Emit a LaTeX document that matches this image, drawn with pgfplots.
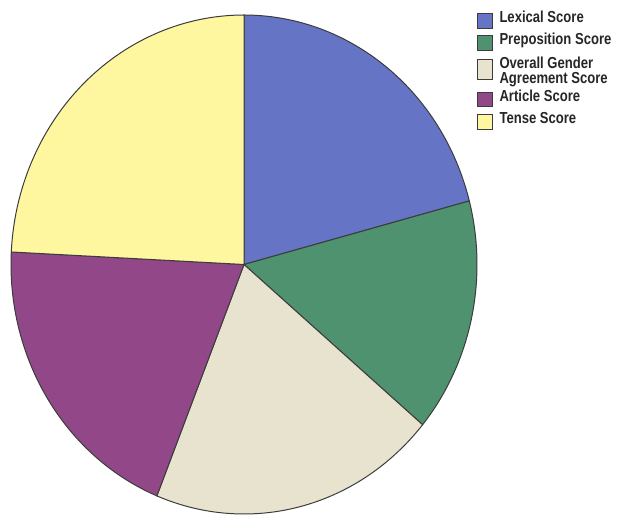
\documentclass[border=0pt]{standalone}
\usepackage{pgfplots}
\pgfplotsset{compat=1.18}
\usepackage{pgfplotstable}
\usepackage{fontspec}
\setmainfont{Liberation Sans}
\newfontfamily\legfont{Liberation Sans}[FakeStretch=0.82]

\definecolor{lexblue}{RGB}{102,116,198}
\definecolor{prepgreen}{RGB}{78,146,112}
\definecolor{genderbeige}{RGB}{232,227,206}
\definecolor{artpurple}{RGB}{146,72,136}
\definecolor{tenseyellow}{RGB}{255,246,160}
\definecolor{edge}{RGB}{60,60,60}

\pgfplotsset{
  genderimg/.style={legend image code/.code={\draw[##1,draw=edge,line width=0.8bp] (0bp,-11bp) rectangle (15bp,9bp);}},
}

% share of the pie (percent), read off the picture
\pgfplotstableread{
name value
Lexical 20.9
Preposition 15.2
Gender 20.0
Article 19.7
Tense 24.2
}\piedata

\newcommand{\cx}{244}
\newcommand{\cy}{253.5}
\newcommand{\rx}{233}
\newcommand{\ry}{249.5}
\newcommand{\lstrut}{\rule[-4.5bp]{0pt}{20bp}}
\newcommand{\topstrut}{\rule{0pt}{17bp}}
\newcommand{\botstrut}{\rule[-6bp]{0pt}{6bp}}

\begin{document}
\begin{tikzpicture}
\pgfplotstablegetelem{0}{value}\of\piedata \let\vA\pgfplotsretval
\pgfplotstablegetelem{1}{value}\of\piedata \let\vB\pgfplotsretval
\pgfplotstablegetelem{2}{value}\of\piedata \let\vC\pgfplotsretval
\pgfplotstablegetelem{3}{value}\of\piedata \let\vD\pgfplotsretval
\pgfplotstablegetelem{4}{value}\of\piedata \let\vE\pgfplotsretval
\pgfmathsetmacro{\aA}{90}
\pgfmathsetmacro{\aB}{\aA-3.6*\vA}
\pgfmathsetmacro{\aC}{\aB-3.6*\vB}
\pgfmathsetmacro{\aD}{\aC-3.6*\vC}
\pgfmathsetmacro{\aE}{\aD-3.6*\vD}
\pgfmathsetmacro{\aF}{\aE-3.6*\vE}
\begin{axis}[
  width=617bp, height=518bp, scale only axis,
  xmin=0, xmax=617, ymin=0, ymax=518,
  hide axis, clip=false,
  samples=80, variable=\t,
  legend cell align=left,
  legend image code/.code={\draw[#1,draw=edge,line width=0.8bp] (0bp,-12.3bp) rectangle (15bp,2.2bp);},
  legend style={draw=none, fill=none, at={(axis cs:476.5,511)}, anchor=north west,
    inner sep=0pt, row sep=1bp, column sep=3bp,
    font=\legfont\bfseries\fontsize{16}{15}\selectfont, text=black!85,
    cells={align=left}, nodes={inner xsep=4bp, inner ysep=0bp}},
]
\addplot[fill=lexblue, draw=edge, line width=1bp, domain=\aB:\aA]
  ({\cx+\rx*cos(\t)},{\cy+\ry*sin(\t)}) -- (axis cs:\cx,\cy) -- cycle;
\addlegendentry{\lstrut Lexical Score}
\addplot[fill=prepgreen, draw=edge, line width=1bp, domain=\aC:\aB]
  ({\cx+\rx*cos(\t)},{\cy+\ry*sin(\t)}) -- (axis cs:\cx,\cy) -- cycle;
\addlegendentry{\lstrut Preposition Score}
\addplot[fill=genderbeige, draw=edge, line width=1bp, domain=\aD:\aC, genderimg]
  ({\cx+\rx*cos(\t)},{\cy+\ry*sin(\t)}) -- (axis cs:\cx,\cy) -- cycle;
\addlegendentry{\topstrut Overall Gender\\\botstrut Agreement Score}
\addplot[fill=artpurple, draw=edge, line width=1bp, domain=\aE:\aD]
  ({\cx+\rx*cos(\t)},{\cy+\ry*sin(\t)}) -- (axis cs:\cx,\cy) -- cycle;
\addlegendentry{\lstrut Article Score}
\addplot[fill=tenseyellow, draw=edge, line width=1bp, domain=\aF:\aE]
  ({\cx+\rx*cos(\t)},{\cy+\ry*sin(\t)}) -- (axis cs:\cx,\cy) -- cycle;
\addlegendentry{\lstrut Tense Score}
\end{axis}
\path (current axis.south west) rectangle (current axis.north east);
\end{tikzpicture}
\end{document}
